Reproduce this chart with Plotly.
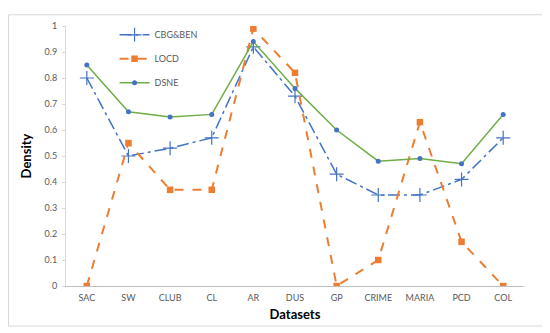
import plotly.graph_objects as go

categories = ["SAC", "SW", "CLUB", "CL", "AR", "DUS", "GP", "CRIME", "MARIA", "PCD", "COL"]
cbg_ben = [0.80, 0.50, 0.53, 0.57, 0.92, 0.73, 0.43, 0.35, 0.35, 0.41, 0.57]
locd = [0.00, 0.55, 0.37, 0.37, 0.99, 0.82, 0.00, 0.10, 0.63, 0.17, 0.00]
dsne = [0.85, 0.67, 0.65, 0.66, 0.94, 0.76, 0.60, 0.48, 0.49, 0.47, 0.66]
y_ticks = [0, 0.1, 0.2, 0.3, 0.4, 0.5, 0.6, 0.7, 0.8, 0.9, 1]
y_tick_labels = ["0", "0.1", "0.2", "0.3", "0.4", "0.5", "0.6", "0.7", "0.8", "0.9", "1"]

BLUE = "#4472C4"
ORANGE = "#ED7D31"
GREEN = "#70AD47"

fig = go.Figure()
fig.add_trace(go.Scatter(
    x=categories, y=cbg_ben, name="CBG&BEN", mode="lines+markers",
    line=dict(color=BLUE, width=1.5, dash="12px,4px,3px,4px"),
    marker=dict(symbol="cross-thin", size=10, color=BLUE, line=dict(color=BLUE, width=1.2)),
    legendgroup="a",
))
fig.add_trace(go.Scatter(
    x=categories, y=locd, name="LOCD", mode="lines+markers",
    line=dict(color=ORANGE, width=2, dash="dash"),
    marker=dict(symbol="square", size=6.5, color=ORANGE),
    legendgroup="b",
))
fig.add_trace(go.Scatter(
    x=categories, y=dsne, name="DSNE", mode="lines+markers",
    line=dict(color=GREEN, width=1.5),
    marker=dict(symbol="circle", size=5, color=BLUE),
    legendgroup="c",
))

fig.add_shape(type="rect", xref="paper", yref="paper",
              x0=-0.1255, x1=1.0415, y0=-0.154, y1=1.0432,
              line=dict(color="#D9D9D9", width=1), fillcolor="rgba(0,0,0,0)", layer="above")

fig.update_layout(
    width=542, height=325,
    margin=dict(l=58, r=26, t=12, b=47),
    paper_bgcolor="white", plot_bgcolor="white",
    font=dict(family="Lato, Noto Sans, sans-serif", color="#595959", size=9),
    showlegend=True,
    legend=dict(x=0.106, y=1.022, xanchor="left", yanchor="top",
                bgcolor="rgba(0,0,0,0)", font=dict(size=9, color="#595959"),
                tracegroupgap=5, itemwidth=30),
    xaxis=dict(
        type="category", showgrid=False, showline=True, linecolor="#BFBFBF", linewidth=1,
        ticks="outside", ticklen=3, tickcolor="rgba(0,0,0,0)",
        tickfont=dict(size=9, color="#595959"),
        title=dict(text="<b>Datasets</b>", font=dict(size=13, color="black"), standoff=8),
        range=[-0.5, 10.5],
    ),
    yaxis=dict(
        range=[0, 1], tickvals=y_ticks, ticktext=y_tick_labels, showgrid=False,
        showline=True, linecolor="#D9D9D9", linewidth=1, ticks="outside", ticklen=3,
        tickcolor="#D9D9D9", tickfont=dict(size=9, color="#595959"), zeroline=False,
        ticklabelstandoff=3,
        title=dict(text="<b>Density</b>", font=dict(size=13, color="black"), standoff=10),
    ),
)

fig.write_html("out.html")
